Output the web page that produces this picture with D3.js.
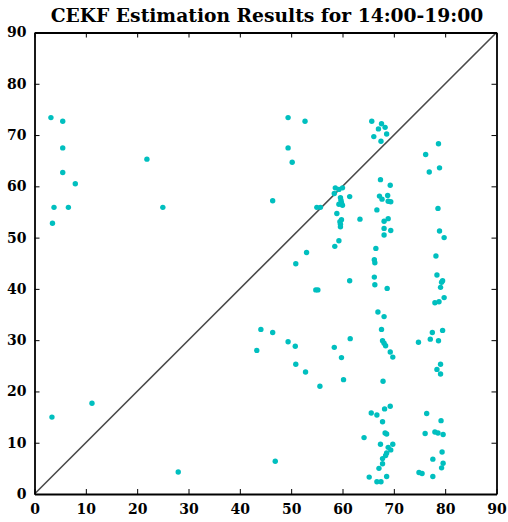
<!DOCTYPE html>
<html lang="en">
  <head>
    <meta charset="UTF-8" />
    <title>CEKF Estimation Results for 14:00-19:00</title>
    <script src="https://d3js.org/d3.v7.min.js"></script>
    <style>
      body { margin: 0; background: #fff; }
      svg text { font-family: "DejaVu Serif", serif; font-weight: bold; fill: #000; }
    </style>
  </head>
  <body>
    <svg id="chart" width="508" height="522"></svg>
    <script>
      const title = "CEKF Estimation Results for 14:00-19:00";
      const tickValues = [0, 10, 20, 30, 40, 50, 60, 70, 80, 90];

      const xVals = [
        3.2, 5.5, 5.5, 5.5, 7.95, 3.8, 6.6, 3.5, 3.4, 11.2, 21.9, 25.0, 28.0,
        49.4, 52.7, 49.4, 50.2, 46.4, 65.7, 67.6, 68.3, 67.0, 68.6, 66.1, 67.5,
        67.4, 69.3, 58.6, 59.3, 60.0, 58.4, 61.4, 59.6, 59.7, 59.8, 59.3, 60.0,
        55.0, 55.7, 67.2, 67.7, 68.8, 68.9, 69.4, 66.7, 58.9, 63.4, 59.8, 59.5,
        59.6, 59.6, 68.1, 68.9, 68.1, 69.4, 68.1, 59.3, 58.5, 66.5, 53.0, 66.2,
        50.9, 66.3, 66.2, 66.3, 68.7, 61.4, 54.8, 55.2, 66.9, 68.1, 67.6, 44.1,
        46.4, 49.4, 50.8, 43.3, 61.5, 58.4, 59.8, 67.8, 68.1, 68.4, 69.3, 69.8,
        74.8, 50.9, 52.8, 60.2, 55.6, 67.9,
        46.9, 69.3, 68.2, 65.6, 66.7, 67.8, 68.3, 68.6, 64.2, 67.4, 69.8, 68.9,
        69.4, 68.6, 68.4, 67.8, 67.8, 67.1, 65.2, 68.6, 66.7, 67.5,
        78.7, 76.2, 78.9, 76.9, 78.6, 78.9, 79.8, 78.2, 78.4, 79.5, 79.3, 79.1,
        79.8, 78.0, 78.8, 79.5, 77.5, 77.1, 78.7, 79.1, 78.4, 79.1,
        76.4, 79.2, 76.1, 78.0, 78.6, 79.6, 79.4, 77.6, 79.6, 79.3, 74.9, 75.5,
        77.6
      ];
      const yVals = [
        73.4, 72.7, 67.5, 62.7, 60.5, 55.9, 55.9, 52.8, 15.0, 17.7, 65.3, 55.9, 4.3,
        73.4, 72.7, 67.5, 64.7, 57.2, 72.7, 72.2, 71.5, 71.2, 70.2, 69.7, 68.8,
        61.3, 60.2, 59.7, 59.4, 59.7, 58.6, 58.0, 57.8, 57.3, 56.8, 56.5, 56.3,
        55.9, 55.9, 58.1, 57.5, 58.2, 57.1, 57.0, 55.4, 54.7, 53.6, 53.5, 53.1,
        52.6, 52.1, 53.2, 53.7, 51.8, 51.4, 50.5, 49.4, 48.3, 47.9, 47.1, 45.7,
        44.9, 45.1, 42.3, 40.8, 40.1, 41.6, 39.8, 39.8, 35.5, 34.6, 32.1, 32.1,
        31.5, 29.7, 28.8, 28.0, 30.3, 28.6, 26.6, 29.9, 29.4, 28.9, 27.7, 26.7,
        29.6, 25.3, 23.8, 22.3, 21.0, 22.0,
        6.4, 17.1, 16.6, 15.8, 15.4, 14.1, 11.9, 11.7, 11.0, 9.7, 9.7, 9.1,
        8.6, 8.0, 7.5, 6.9, 5.9, 5.0, 3.3, 3.4, 2.4, 2.4,
        68.3, 66.2, 63.6, 62.8, 55.7, 51.3, 50.0, 46.4, 42.7, 41.6, 41.3, 40.3,
        38.3, 37.3, 37.5, 31.9, 31.5, 30.2, 29.9, 25.3, 24.3, 23.4,
        15.7, 14.3, 11.8, 12.1, 11.9, 11.6, 8.2, 6.8, 6.0, 5.1, 4.2, 4.0,
        3.4
      ];

      const svg = d3.select("#chart");
      const margin = { top: 32.5, right: 11.5, bottom: 28, left: 34.5 };
      const width = 508 - margin.left - margin.right;
      const height = 522 - margin.top - margin.bottom;

      const x = d3.scaleLinear().domain([0, 90]).range([0, width]);
      const y = d3.scaleLinear().domain([0, 90]).range([height, 0]);

      const g = svg
        .append("g")
        .attr("transform", `translate(${margin.left},${margin.top})`);

      svg
        .append("text")
        .attr("x", 267)
        .attr("y", 22)
        .attr("text-anchor", "middle")
        .style("font-size", "18.7px")
        .text(title);

      // diagonal y = x
      g.append("line")
        .attr("x1", x(0))
        .attr("y1", y(0))
        .attr("x2", x(90))
        .attr("y2", y(90))
        .attr("stroke", "#4a4a4a")
        .attr("stroke-width", 1.6);

      g.selectAll(".pt")
        .data(d3.zip(xVals, yVals))
        .enter()
        .append("circle")
        .attr("class", "pt")
        .attr("cx", (d) => x(d[0]))
        .attr("cy", (d) => y(d[1]))
        .attr("r", 2.7)
        .attr("fill", "#00bfbf");

      // axes with inward ticks on all sides
      const axBottom = g
        .append("g")
        .attr("transform", `translate(0,${height})`)
        .call(d3.axisBottom(x).tickValues(tickValues).tickSizeInner(-5).tickSizeOuter(0).tickPadding(10));
      const axLeft = g
        .append("g")
        .call(d3.axisLeft(y).tickValues(tickValues).tickSizeInner(-5).tickSizeOuter(0).tickPadding(8));
      const axTop = g
        .append("g")
        .call(d3.axisTop(x).tickValues(tickValues).tickSizeInner(-5).tickSizeOuter(0).tickFormat(""));
      const axRight = g
        .append("g")
        .attr("transform", `translate(${width},0)`)
        .call(d3.axisRight(y).tickValues(tickValues).tickSizeInner(-5).tickSizeOuter(0).tickFormat(""));

      [axBottom, axLeft, axTop, axRight].forEach((a) => {
        a.select(".domain").attr("stroke", "#000").attr("stroke-width", 1.8);
        a.selectAll(".tick line").attr("stroke", "#000").attr("stroke-width", 1);
        a.selectAll(".tick text")
          .style("font-family", '"DejaVu Serif", serif')
          .style("font-weight", "bold")
          .style("font-size", "14px");
      });
    </script>
  </body>
</html>
